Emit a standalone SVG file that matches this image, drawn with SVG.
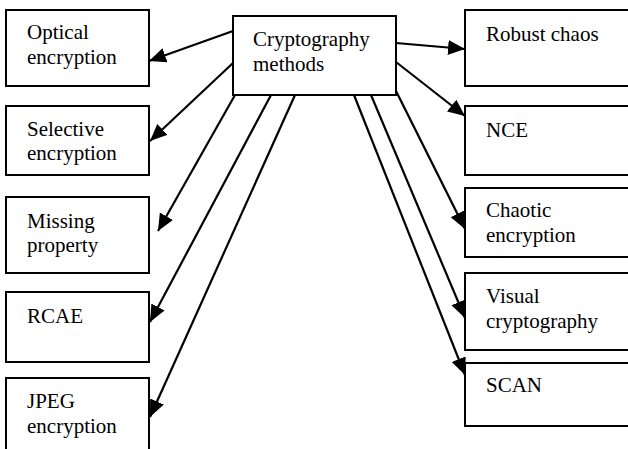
<svg xmlns="http://www.w3.org/2000/svg" width="628" height="449" viewBox="0 0 628 449" font-family="'Liberation Serif', 'Times New Roman', serif" font-size="21">
<style>
rect{fill:#fff;stroke:#000;stroke-width:2}
text{font-family:'Liberation Serif','Times New Roman',serif;font-size:21px;fill:#000}
.c line{stroke:#000;stroke-width:2.2;marker-end:url(#ah)}
</style>
<defs>
<marker id="ah" markerUnits="userSpaceOnUse" markerWidth="20" markerHeight="16" refX="17" refY="7.5" orient="auto">
<path d="M0,0 L17,7.5 L0,15 Z" fill="#000"/>
</marker>
</defs>
<g class="c" id="connectors">
<line x1="233" y1="31" x2="149" y2="61"/>
<line x1="233" y1="63" x2="150" y2="141"/>
<line x1="235" y1="95" x2="158" y2="231"/>
<line x1="271" y1="95" x2="150" y2="322"/>
<line x1="295" y1="95" x2="150" y2="417"/>
<line x1="396" y1="43" x2="465" y2="49"/>
<line x1="396" y1="62" x2="465" y2="116"/>
<line x1="394" y1="87" x2="465" y2="229"/>
<line x1="371" y1="95" x2="465" y2="318"/>
<line x1="354" y1="95" x2="465" y2="375"/>
</g>
<g id="center"><rect x="233" y="16" width="163" height="79"/><text x="253" y="46">Cryptography</text><text x="253" y="71">methods</text></g>
<g id="optical"><rect x="6" y="10" width="143" height="76"/><text x="27" y="39">Optical</text><text x="27" y="64">encryption</text></g>
<g id="selective"><rect x="6" y="106" width="143" height="69"/><text x="27" y="136">Selective</text><text x="27" y="160">encryption</text></g>
<g id="missing"><rect x="6" y="197" width="143" height="76"/><text x="27" y="228">Missing</text><text x="27" y="252">property</text></g>
<g id="rcae"><rect x="6" y="292" width="143" height="70"/><text x="27" y="323">RCAE</text></g>
<g id="jpeg"><rect x="6" y="378" width="143" height="72"/><text x="27" y="408">JPEG</text><text x="27" y="433">encryption</text></g>
<g id="robust"><rect x="465" y="10" width="175" height="76"/><text x="486" y="41">Robust chaos</text></g>
<g id="nce"><rect x="465" y="106" width="175" height="69"/><text x="486" y="137">NCE</text></g>
<g id="chaotic"><rect x="465" y="188" width="175" height="69"/><text x="486" y="217">Chaotic</text><text x="486" y="242">encryption</text></g>
<g id="visual"><rect x="465" y="273" width="175" height="77"/><text x="486" y="303">Visual</text><text x="486" y="328">cryptography</text></g>
<g id="scan"><rect x="465" y="363" width="175" height="63"/><text x="486" y="392">SCAN</text></g>
</svg>
